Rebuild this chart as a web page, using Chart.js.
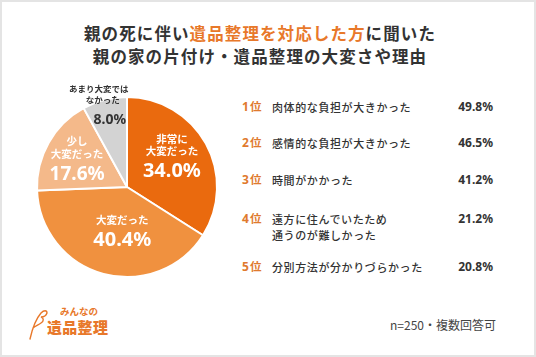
<!DOCTYPE html>
<html lang="ja">
<head>
<meta charset="utf-8">
<script src="https://cdn.jsdelivr.net/npm/chart.js@4"></script>
<style>
  html, body { margin:0; padding:0; background:#fff; }
  #frame { position:relative; width:536px; height:357px; box-sizing:border-box; border:2px solid #e4e4e4; background:#fff; overflow:hidden;
    font-family:"Noto Sans CJK JP","Noto Sans",sans-serif; color:#333; }
  .title { position:absolute; left:-8px; width:532px; text-align:center; font-weight:700; font-size:16.5px; letter-spacing:1.1px; color:#333; white-space:nowrap; }
  .title .hl { color:#E8782A; }
  #pieBox { position:absolute; left:15px; top:75px; width:220px; height:220px; }
  .rank { position:absolute; left:240px; font-weight:700; font-size:12px; color:#E07A2E; white-space:nowrap; font-family:"Noto Sans","Noto Sans CJK JP",sans-serif; }
  .rank span { font-family:"Noto Sans CJK JP",sans-serif; font-size:11.5px; margin-left:1px; }
  .lbl { position:absolute; left:270px; font-size:11px; font-weight:500; letter-spacing:0.6px; color:#333; line-height:16px; white-space:nowrap; }
  .val { position:absolute; right:41px; font-size:12px; font-weight:700; color:#333; font-family:"Noto Sans",sans-serif; white-space:nowrap; }
  #note { position:absolute; right:38px; top:314px; font-size:12px; color:#444; white-space:nowrap; }
  #logo { position:absolute; left:25px; top:302px; width:90px; height:40px; }
  #logo .small { position:absolute; left:33px; top:0px; font-size:9.5px; font-weight:700; color:#E8782A; }
  #logo .big { position:absolute; left:20px; top:12px; font-size:15px; font-weight:900; color:#E8782A; letter-spacing:0.3px; }
</style>
</head>
<body>
<div id="frame">
  <div class="title" style="top:19px;">親の死に伴い<span class="hl">遺品整理を対応した方</span>に聞いた</div>
  <div class="title" style="top:42px;">親の家の片付け・遺品整理の大変さや理由</div>
  <div id="pieBox"><canvas id="pie" width="220" height="220"></canvas></div>
  <div id="list"></div>
  <div id="logo">
    <svg width="22" height="34" viewBox="0 0 22 34" style="position:absolute;left:0;top:4px">
      <path d="M3 31 C5 22 8 12 14 5 C17 2 20 2 20 5 C19 8 16 9 14 9 C17 10 17 13 14 15 C11 17 8 18 6 20" fill="none" stroke="#E8782A" stroke-width="1.4" stroke-linecap="round"/>
    </svg>
    <div class="small">みんなの</div>
    <div class="big">遺品整理</div>
  </div>
  <div id="note">n=250・複数回答可</div>
</div>
<script>
// ---- Data ----
const pieCategories = [["非常に","大変だった"], ["大変だった"], ["少し","大変だった"], ["あまり大変では","なかった"]];
const pieValues = [34.0, 40.4, 17.6, 8.0];
const rankLabels = ["1位", "2位", "3位", "4位", "5位"];
const reasonLabels = [["肉体的な負担が大きかった"], ["感情的な負担が大きかった"], ["時間がかかった"], ["遠方に住んでいたため","通うのが難しかった"], ["分別方法が分かりづらかった"]];
const reasonValues = [49.8, 46.5, 41.2, 21.2, 20.8];

// ---- Styles ----
const pieColors = ["#EA6A0E", "#F0913F", "#F4B98A", "#D3D3D3"];
const rowTops = [97, 133, 170, 209, 257];

// Right-hand ranked list
const list = document.getElementById('list');
rankLabels.forEach((r, i) => {
  const top = rowTops[i];
  const rk = document.createElement('div');
  rk.className = 'rank'; rk.style.top = (top - 1) + 'px';
  rk.innerHTML = r.replace('位', '<span>位</span>');
  list.appendChild(rk);
  const lb = document.createElement('div');
  lb.className = 'lbl'; lb.style.top = top + 'px';
  lb.innerHTML = reasonLabels[i].join('<br>');
  list.appendChild(lb);
  const v = document.createElement('div');
  v.className = 'val'; v.style.top = (top - 1) + 'px';
  v.textContent = reasonValues[i].toFixed(1) + '%';
  list.appendChild(v);
});

// Pie label layout (style only)
const labelStyle = [
  { f: 0.62, color: '#fff', lines: [
      { dx: -4, dy: -21, size: 10.5, weight: 700, li: 0 },
      { dx: -4, dy: -9, size: 10.5, weight: 700, li: 1 },
      { dx: -4, dy: 11, size: 20, weight: 700, pct: true } ] },
  { f: 0.5, color: '#fff', lines: [
      { dx: 7, dy: -10, size: 10.5, weight: 700, li: 0 },
      { dx: 7, dy: 10, size: 20, weight: 700, pct: true } ] },
  { f: 0.65, color: '#fff', lines: [
      { dx: 1, dy: -17, size: 10.5, weight: 700, li: 0 },
      { dx: 1, dy: -4, size: 10.5, weight: 700, li: 1 },
      { dx: 1, dy: 16, size: 19, weight: 700, pct: true } ] },
  { f: 0.77, color: '#333', lines: [
      { dx: -11, dy: -31, size: 8.5, weight: 700, li: 0 },
      { dx: -7, dy: -20, size: 8.5, weight: 700, li: 1 },
      { dx: 0, dy: 0, size: 14, weight: 700, pct: true } ] }
];

const pieLabelPlugin = {
  id: 'pieLabels',
  afterDatasetsDraw(chart) {
    const ctx = chart.ctx;
    const meta = chart.getDatasetMeta(0);
    meta.data.forEach((arc, i) => {
      const st = labelStyle[i];
      const mid = (arc.startAngle + arc.endAngle) / 2;
      const ax = arc.x + Math.cos(mid) * arc.outerRadius * st.f;
      const ay = arc.y + Math.sin(mid) * arc.outerRadius * st.f;
      ctx.save();
      ctx.textAlign = 'center';
      ctx.textBaseline = 'middle';
      ctx.fillStyle = st.color;
      st.lines.forEach(ln => {
        const txt = ln.pct ? pieValues[i].toFixed(1) + '%' : pieCategories[i][ln.li];
        const fam = ln.pct ? '"Noto Sans", sans-serif' : '"Noto Sans CJK JP", sans-serif';
        ctx.font = `${ln.weight} ${ln.size}px ${fam}`;
        ctx.fillText(txt, ax + ln.dx, ay + ln.dy);
      });
      ctx.restore();
    });
  }
};

new Chart(document.getElementById('pie'), {
  type: 'pie',
  data: {
    labels: pieCategories.map(c => c.join('')),
    datasets: [{
      data: pieValues,
      backgroundColor: pieColors,
      borderColor: '#ffffff',
      borderWidth: 2
    }]
  },
  options: {
    responsive: false,
    animation: false,
    layout: { padding: 19 },
    plugins: { legend: { display: false }, tooltip: { enabled: false } }
  },
  plugins: [pieLabelPlugin]
});
</script>
</body>
</html>
